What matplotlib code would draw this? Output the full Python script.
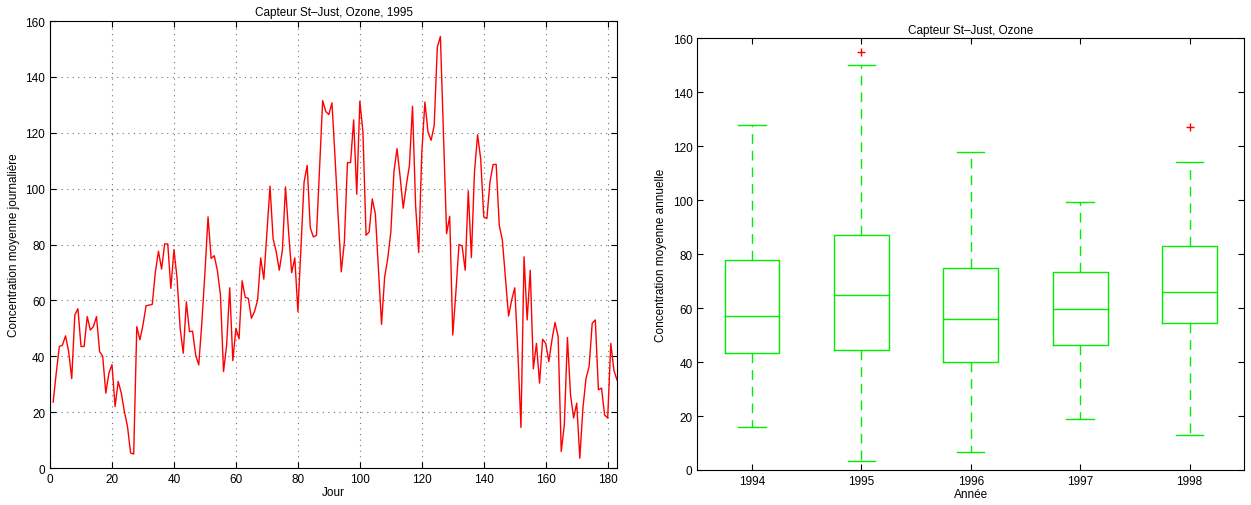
import numpy as np
import matplotlib
matplotlib.use("Agg")
import matplotlib.pyplot as plt

plt.rcParams['font.family'] = ['Liberation Sans', 'DejaVu Sans']
plt.rcParams['font.size'] = 8.5

# daily mean ozone, St-Just, 1995 (days 1..183)
ozone_1995 = [
    23.6, 34, 43.5, 44, 47.3, 41.7, 32, 54.8, 57, 43.5,
    43.5, 54.2, 49.4, 50.6, 54.2, 41.7, 40, 26.8, 34, 37,
    22, 31, 26.8, 20.2, 14.9, 5.4, 5, 50.6, 45.9, 51.2,
    58.1, 58.3, 58.6, 70.2, 77.6, 71.2, 80.2, 80.2, 64.3, 78.2,
    67.9, 50, 41.1, 59.5, 48.8, 49, 40.5, 36.9, 52, 70,
    89.9, 75, 76, 70.8, 62, 34.5, 44, 64.5, 38.4, 50,
    46.2, 67, 61.1, 60.7, 53.6, 56, 60.1, 75.2, 67.6, 84.5,
    100.9, 82.1, 77.4, 70.8, 78, 100.6, 84.5, 69.9, 75.2, 56,
    79, 102.4, 108.3, 86, 82.7, 83.3, 107.5, 131.5, 127.6, 126.5,
    130.7, 111, 90, 70.2, 80.9, 109.3, 109.3, 124.6, 98, 131.3,
    120.2, 83.3, 84.5, 96.3, 91, 71, 51.4, 68.3, 75, 84.5,
    106, 114.3, 104.2, 93, 101.2, 108.3, 129.5, 93.8, 77.1, 113,
    131, 120.2, 117.3, 122.6, 150.6, 154.5, 118.6, 83.9, 90.1, 47.6,
    63, 80, 79.5, 70.8, 99.2, 75.3, 106, 119.3, 110.7, 89.9,
    89.3, 102.4, 108.6, 108.7, 86.9, 81.5, 67.9, 54.4, 60.1, 64.5,
    41.6, 14.5, 75.6, 53, 70.8, 35.5, 44.6, 30.4, 46.1, 44.6,
    38.1, 45.8, 52.1, 47, 5.9, 15.5, 46.7, 26.2, 17.9, 23.2,
    3.5, 21.4, 32.1, 36.3, 51.8, 53, 28, 28.6, 19, 17.9,
    44.6, 35, 31.5,
]
days = np.arange(1, len(ozone_1995) + 1)

# yearly box statistics
years = ['1994', '1995', '1996', '1997', '1998']
whis_low = [16, 3.5, 6.5, 19, 13]
q1 = [43.5, 44.5, 40, 46.5, 54.5]
medians = [57, 65, 56, 59.5, 66]
q3 = [78, 87, 75, 73.5, 83]
whis_high = [128, 150, 118, 99.5, 114]
outliers = [[], [155], [], [], [127]]

fig = plt.figure(figsize=(12.51, 5.06), dpi=100)

# --- left: daily series
ax1 = fig.add_axes([0.040, 0.0731, 0.4532, 0.8834])
ax1.plot(days, ozone_1995, color='red', lw=1)
ax1.set_xlim(0, 183)
ax1.set_ylim(0, 160)
ax1.set_xticks(np.arange(0, 181, 20))
ax1.set_yticks(np.arange(0, 161, 20))
ax1.grid(True, ls=(0, (1, 4)), color='k', lw=0.8, alpha=0.55)
ax1.tick_params(direction='in', top=True, right=True, length=4)
ax1.set_title('Capteur St\u2013Just, Ozone, 1995', fontsize=8.5, pad=4)
ax1.set_xlabel('Jour', labelpad=1)
ax1.set_ylabel('Concentration moyenne journalière', labelpad=4)

# --- right: yearly boxplot
ax2 = fig.add_axes([0.5574, 0.0692, 0.4372, 0.8531])
stats = []
for i in range(len(years)):
    stats.append(dict(label=years[i], whislo=whis_low[i], q1=q1[i], med=medians[i],
                      q3=q3[i], whishi=whis_high[i], fliers=outliers[i]))
green = '#00ee00'
ax2.bxp(stats, positions=range(1, len(years) + 1), widths=0.5, capwidths=0.25,
        boxprops=dict(color=green, lw=1),
        medianprops=dict(color=green, lw=1),
        whiskerprops=dict(color=green, lw=1, ls=(0, (7, 5))),
        capprops=dict(color=green, lw=1),
        flierprops=dict(marker='+', markeredgecolor='red', markersize=6, lw=0))
ax2.set_xlim(0.5, 5.5)
ax2.set_ylim(0, 160)
ax2.set_yticks(np.arange(0, 161, 20))
ax2.tick_params(direction='in', top=True, right=True, length=4)
ax2.set_title('Capteur St\u2013Just, Ozone', fontsize=8.5, pad=4)
ax2.set_xlabel('Année', labelpad=1)
ax2.set_ylabel('Concentration moyenne annuelle', labelpad=4)

fig.savefig('out.png', dpi=100)
